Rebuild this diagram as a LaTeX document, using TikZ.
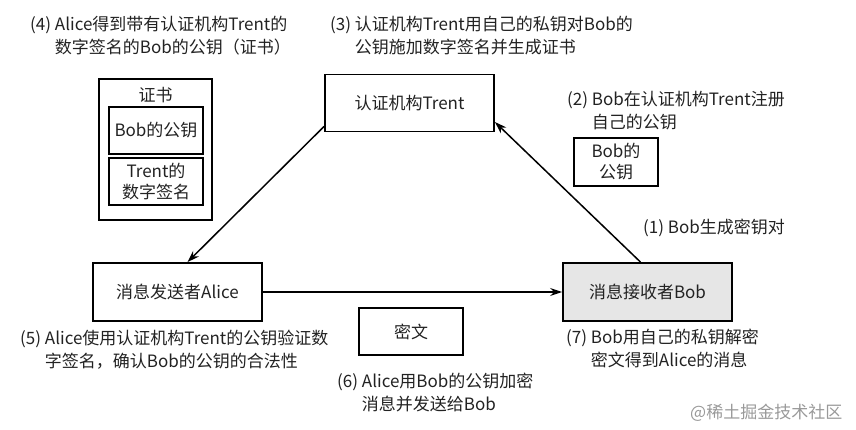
\documentclass[tikz,border=0pt]{standalone}
\usepackage{fontspec}
\setmainfont{Noto Sans CJK SC}
\usetikzlibrary{arrows.meta}
\definecolor{txt}{HTML}{222222}
\definecolor{bobfill}{HTML}{E6E6E6}
\tikzset{
  box/.style={draw=black, line width=1.8pt, inner sep=0pt, font=\fontsize{17}{21}\selectfont, text=txt, align=center},
  lbl/.style={anchor=north west, inner sep=0pt, font=\fontsize{17}{23}\selectfont, text=txt, align=left},
  conn/.style={line width=1.5pt, -{Stealth[length=12pt,width=8pt]}},
}
\begin{document}
\begin{tikzpicture}[x=1pt,y=-1pt]
\useasboundingbox (0,0) rectangle (856,430);
% main boxes
\node[box, minimum width=169pt, minimum height=57pt] (trent) at (409.5,103) {认证机构Trent};
\node[box, minimum width=169pt, minimum height=58pt] (alice) at (177.5,292) {消息发送者Alice};
\node[box, fill=bobfill, minimum width=169pt, minimum height=58pt] (bob) at (647.5,292) {消息接收者Bob};
\node[box, minimum width=104pt, minimum height=47pt] (cipher) at (411,331.5) {密文};
% certificate
\node[box, minimum width=113pt, minimum height=141pt] (cert) at (155.5,149.5) {};
\node[inner sep=0pt, font=\fontsize{17}{21}\selectfont, text=txt] (certtitle) at (155.5,95) {证书};
\node[box, minimum width=94pt, minimum height=47pt] (certkey) at (156,130.5) {Bob的公钥};
\node[box, minimum width=94pt, minimum height=47pt] (certsig) at (156,181.5) {Trent的\\数字签名};
% Bob public key
\node[box, minimum width=84pt, minimum height=48pt] (bobkey) at (616,162) {Bob的\\公钥};
% connectors
\draw[conn] ([yshift=6pt]trent.south west) -- ([xshift=10pt]alice.north);
\draw[conn] ([xshift=-7pt]bob.north) -- ([yshift=-19pt]trent.east);
\draw[conn] (alice.east) -- (bob.west);
% labels
\node[lbl] (l4) at (30,16) {(4) Alice得到带有认证机构Trent的\\\phantom{(4) }数字签名的Bob的公钥（证书）};
\node[lbl] (l3) at (330,16) {(3) 认证机构Trent用自己的私钥对Bob的\\\phantom{(3) }公钥施加数字签名并生成证书};
\node[lbl] (l2) at (567,91) {(2) Bob在认证机构Trent注册\\\phantom{(2) }自己的公钥};
\node[lbl] (l1) at (643,219) {(1) Bob生成密钥对};
\node[lbl] (l5) at (20,330) {(5) Alice使用认证机构Trent的公钥验证数\\\phantom{(5) }字签名，确认Bob的公钥的合法性};
\node[lbl] (l6) at (337,373) {(6) Alice用Bob的公钥加密\\\phantom{(6) }消息并发送给Bob};
\node[lbl] (l7) at (566,329) {(7) Bob用自己的私钥解密\\\phantom{(7) }密文得到Alice的消息};
\node[anchor=west, inner sep=0pt, font=\fontsize{17}{20}\selectfont, text=black!40] (wm) at (690,413) {@稀土掘金技术社区};
\end{tikzpicture}
\end{document}
